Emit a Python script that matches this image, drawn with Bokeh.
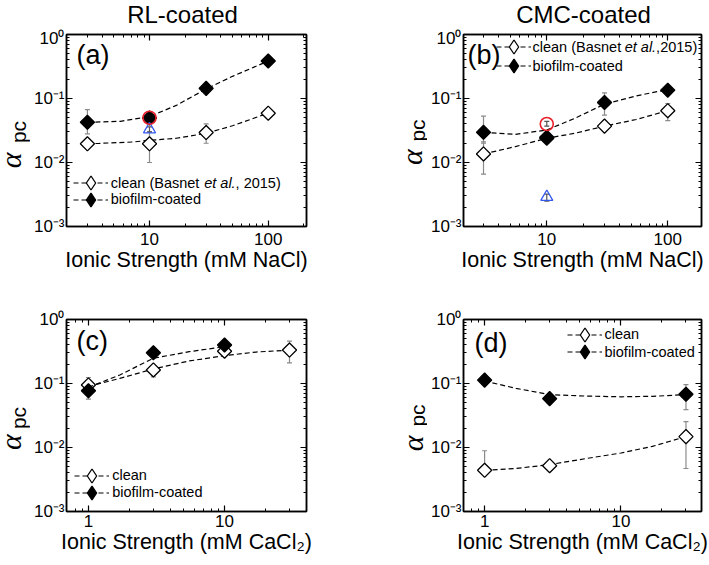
import numpy as np
from bokeh.plotting import figure
from bokeh.models import (ColumnDataSource, Whisker, TeeHead, LogAxis, FixedTicker,
                          Label, Legend, LegendItem, Range1d)
from bokeh.layouts import column, row
from bokeh.embed import file_html
from bokeh.resources import INLINE

FONT = "Liberation Sans"

# ---------------- data ----------------
Y_TICKS = [0.001, 0.01, 0.1, 1.0]
Y_TICK_LABELS = ["10\u207b\u00b3", "10\u207b\u00b2", "10\u207b\u00b9", "10\u2070"]
Y_MINOR = [m * d for d in [0.001, 0.01, 0.1] for m in range(2, 10)]

NACL_TICKS = [10, 100]
NACL_TICK_LABELS = ["10", "100"]
NACL_MINOR = [2, 3, 4, 5, 6, 7, 8, 9, 20, 30, 40, 50, 60, 70, 80, 90, 200]
CACL_TICKS = [1, 10]
CACL_TICK_LABELS = ["1", "10"]
CACL_MINOR = [0.8, 0.9, 2, 3, 4, 5, 6, 7, 8, 9, 20, 30]

# (a) RL-coated, NaCl
a_x = [3, 10, 30, 100]
a_clean = [0.0196, 0.0196, 0.0294, 0.059]
a_clean_lo = [0.017, 0.010, 0.020, 0.056]
a_clean_hi = [0.023, 0.030, 0.040, 0.063]
a_bio = [0.0425, 0.0497, 0.144, 0.385]
a_bio_lo = [0.028, 0.045, 0.130, 0.360]
a_bio_hi = [0.067, 0.055, 0.160, 0.410]
a_fit_clean_x = [3, 3.8, 7.2, 10, 16.8, 30, 50, 100]
a_fit_clean_y = [0.0196, 0.0199, 0.0209, 0.0222, 0.0239, 0.0286, 0.0375, 0.059]
a_fit_bio_x = [3, 5.7, 10, 16.8, 30, 50, 100]
a_fit_bio_y = [0.0425, 0.044, 0.0522, 0.078, 0.141, 0.222, 0.385]
a_red_x, a_red_y, a_red_lo, a_red_hi = [10], [0.050], [0.046], [0.054]
a_blue_x, a_blue_y, a_blue_lo, a_blue_hi = [10], [0.033], [0.030], [0.036]

# (b) CMC-coated, NaCl
b_x = [3, 10, 30, 100]
b_clean = [0.0136, 0.024, 0.037, 0.0645]
b_clean_lo = [0.0066, 0.021, 0.034, 0.045]
b_clean_hi = [0.021, 0.027, 0.040, 0.0836]
b_bio = [0.0296, 0.0248, 0.0867, 0.135]
b_bio_lo = [0.020, 0.0205, 0.055, 0.125]
b_bio_hi = [0.053, 0.029, 0.122, 0.145]
b_fit_x = [3, 5.5, 10, 17, 30, 55, 100]
b_fit_clean_y = [0.0136, 0.0177, 0.0239, 0.0286, 0.037, 0.047, 0.0645]
b_fit_bio_y = [0.0296, 0.0275, 0.0322, 0.0489, 0.0816, 0.11, 0.138]
b_red_x, b_red_y, b_red_lo, b_red_hi = [10], [0.040], [0.037], [0.044]
b_blue_x, b_blue_y, b_blue_lo, b_blue_hi = [10], [0.0029], [0.0025], [0.0032]

# (c) RL-coated, CaCl2
c_clean_x = [1, 3, 10, 30]
c_clean = [0.095, 0.163, 0.32, 0.333]
c_clean_lo = [0.080, 0.127, 0.272, 0.21]
c_clean_hi = [0.124, 0.19, 0.36, 0.46]
c_bio_x = [1, 3, 10]
c_bio = [0.077, 0.303, 0.40]
c_bio_lo = [0.057, 0.28, 0.36]
c_bio_hi = [0.095, 0.33, 0.44]
c_fit_clean_x = [1, 1.7, 3, 5.5, 10, 17, 30]
c_fit_clean_y = [0.09, 0.12, 0.169, 0.225, 0.272, 0.31, 0.333]
c_fit_bio_x = [1, 1.7, 3, 5.5, 10]
c_fit_bio_y = [0.087, 0.136, 0.248, 0.314, 0.376]

# (d) CMC-coated, CaCl2
d_x = [1, 3, 30]
d_clean = [0.0044, 0.0052, 0.0148]
d_clean_lo = [0.0040, 0.0048, 0.0047]
d_clean_hi = [0.0089, 0.0057, 0.0253]
d_bio = [0.113, 0.058, 0.068]
d_bio_lo = [0.105, 0.054, 0.039]
d_bio_hi = [0.120, 0.062, 0.096]
d_fit_x = [1, 1.7, 3, 5.5, 10, 17, 30]
d_fit_clean_y = [0.0044, 0.0047, 0.0054, 0.0067, 0.0082, 0.0104, 0.0148]
d_fit_bio_y = [0.109, 0.084, 0.067, 0.0636, 0.062, 0.063, 0.067]

NACL_LABEL = "Ionic Strength (mM NaCl)"
CACL_LABEL = "Ionic Strength (mM CaCl\u2082)"

# ---------------- helpers ----------------
FH = 192


def style_axis(ax, label_size=None, standoff=3):
    ax.axis_line_color = "black"
    ax.axis_line_width = 1.5
    ax.major_tick_in = 6
    ax.major_tick_out = 0
    ax.minor_tick_in = 3
    ax.minor_tick_out = 0
    ax.major_tick_line_color = "black"
    ax.minor_tick_line_color = "black"
    ax.major_tick_line_width = 1.2
    ax.minor_tick_line_width = 1
    if label_size is None:
        ax.major_label_text_font_size = "1px"
        ax.major_label_text_alpha = 0
        ax.major_label_standoff = 0
    else:
        ax.major_label_text_font = FONT
        ax.major_label_text_font_size = label_size
        ax.major_label_text_color = "black"
        ax.major_label_standoff = standoff


def make_fig(xr, xt, xt_labels, xminor, fw, bt, bb, br, xlabel, xstand):
    p = figure(x_axis_type="log", y_axis_type="log",
               x_range=Range1d(*xr), y_range=Range1d(Y_TICKS[0], Y_TICKS[-1]),
               frame_width=fw, frame_height=FH,
               min_border_left=35, min_border_right=br,
               min_border_top=bt, min_border_bottom=bb,
               output_backend="svg", toolbar_location=None)
    p.xgrid.visible = False
    p.ygrid.visible = False
    p.outline_line_color = "black"
    p.outline_line_width = 1.5
    p.background_fill_color = "white"
    p.border_fill_color = "white"
    xticker = FixedTicker(ticks=xt, minor_ticks=xminor)
    yticker = FixedTicker(ticks=Y_TICKS, minor_ticks=Y_MINOR)
    bx = p.xaxis[0]
    ly = p.yaxis[0]
    bx.ticker = xticker
    bx.major_label_overrides = dict(zip(xt, xt_labels))
    ly.ticker = yticker
    ly.major_label_overrides = dict(zip(Y_TICKS, Y_TICK_LABELS))
    top = LogAxis(ticker=xticker)
    right = LogAxis(ticker=yticker)
    p.add_layout(top, "above")
    p.add_layout(right, "right")
    style_axis(bx, "17px", xstand)
    style_axis(ly, "17px", 2)
    style_axis(top)
    style_axis(right)
    bx.axis_label = xlabel
    bx.axis_label_text_font = FONT
    bx.axis_label_text_font_size = "21.5px"
    bx.axis_label_text_font_style = "normal"
    bx.axis_label_text_color = "black"
    bx.axis_label_standoff = 0
    return p


def strip(w, h):
    s = figure(width=w, height=h, x_range=Range1d(0, 1), y_range=Range1d(0, 1),
               min_border=0, x_axis_location=None, y_axis_location=None,
               output_backend="svg", toolbar_location=None)
    s.xgrid.visible = False
    s.ygrid.visible = False
    s.outline_line_color = None
    s.background_fill_color = "white"
    s.border_fill_color = "white"
    return s


def txt(p, sx, sy, text, size, align="left", style="normal", font=FONT, angle=0.0):
    # (sx, sy) is the vertical middle of the text box
    p.add_layout(Label(x=sx, y=sy, x_units="screen", y_units="screen", text=text,
                       text_font=font, text_font_size=f"{size}px", text_align=align,
                       text_baseline="middle", text_font_style=style, angle=angle,
                       text_color="black"))


def errbars(p, x, lo, hi, color="#8a8a8a"):
    src = ColumnDataSource(dict(x=x, lo=lo, hi=hi))
    w = Whisker(source=src, base="x", lower="lo", upper="hi", dimension="height",
                line_color=color, line_width=1.2,
                upper_head=TeeHead(size=5, line_color=color, line_width=1.2),
                lower_head=TeeHead(size=5, line_color=color, line_width=1.2))
    p.add_layout(w)


def series(p, fx, fy, x, y, lo, hi, filled):
    fill = "black" if filled else "white"
    ln = p.line(fx, fy, line_color="black", line_width=1.2, line_dash="5 3")
    errbars(p, x, lo, hi)
    # diamond renderer (sits under the square-diamonds; used for the legend symbol)
    leg = p.scatter(x, y, marker="diamond", size=12, fill_color=fill,
                    line_color="black", line_width=1.3)
    p.scatter(x, y, marker="square", angle=np.pi / 4, size=10, fill_color=fill,
              line_color="black", line_width=1.3)
    return [ln, leg]


def legend1(p, label, rends, vx, vy, standoff):
    lg = Legend(items=[LegendItem(label=label, renderers=rends)],
                location=(vx, vy), padding=0, margin=0, spacing=0,
                glyph_width=35, glyph_height=35, label_height=17,
                label_standoff=standoff, border_line_color=None,
                background_fill_alpha=0, label_text_font=FONT,
                label_text_font_size="14.5px", label_text_color="black")
    p.add_layout(lg)


def extras(p, rx, ry, rlo, rhi, bx_, by_, blo, bhi):
    errbars(p, rx, rlo, rhi, "#555555")
    errbars(p, bx_, blo, bhi, "#555555")
    p.scatter(bx_, by_, marker="triangle", size=12, fill_color=None,
              line_color="#3358f0", line_width=1.3)
    p.scatter(rx, ry, marker="circle", size=13, fill_color=None,
              line_color="#e8202a", line_width=1.6)


def ylabel(s, ax_, ay_, px_, py_):
    # screen positions are relative to the strip frame, which lines up with the
    # neighbouring plot frame
    txt(s, ax_, ay_, "\u03b1", 30, align="center", style="italic",
        font="Liberation Serif", angle=np.pi / 2)
    txt(s, px_, py_, "pc", 21, align="center", angle=np.pi / 2)


# ---------------- (a) ----------------
pa = make_fig((2.0, 210.0), NACL_TICKS, NACL_TICK_LABELS, NACL_MINOR, 240, 6, 62, 89,
              NACL_LABEL, 6)
ac = series(pa, a_fit_clean_x, a_fit_clean_y, a_x, a_clean, a_clean_lo, a_clean_hi, False)
ab = series(pa, a_fit_bio_x, a_fit_bio_y, a_x, a_bio, a_bio_lo, a_bio_hi, True)
extras(pa, a_red_x, a_red_y, a_red_lo, a_red_hi, a_blue_x, a_blue_y, a_blue_lo, a_blue_hi)
legend1(pa, "clean (Basnet", ac, 6.7, 25.8, 3)
legend1(pa, "biofilm-coated", ab, 6.7, 9.2, 3)
txt(pa, 137.7, 43.3, "et al.", 14.5, style="italic")
txt(pa, 169.1, 43.3, ", 2015)", 14.5)
txt(pa, 10, 171.5, "(a)", 27)

# ---------------- (b) ----------------
pb = make_fig((2.05, 190.0), NACL_TICKS, NACL_TICK_LABELS, NACL_MINOR, 238, 6, 62, 8,
              NACL_LABEL, 6)
bc = series(pb, b_fit_x, b_fit_clean_y, b_x, b_clean, b_clean_lo, b_clean_hi, False)
bb = series(pb, b_fit_x, b_fit_bio_y, b_x, b_bio, b_bio_lo, b_bio_hi, True)
extras(pb, b_red_x, b_red_y, b_red_lo, b_red_hi, b_blue_x, b_blue_y, b_blue_lo, b_blue_hi)
legend1(pb, "clean (Basnet", bc, 32.5, 161.8, 2)
legend1(pb, "biofilm-coated", bb, 32.5, 142.8, 2)
txt(pb, 161.2, 179.3, "et al.", 14.5, style="italic")
txt(pb, 192.6, 179.3, ",2015)", 14.5)
txt(pb, 4, 171.5, "(b)", 27)

# ---------------- (c) ----------------
pc = make_fig((0.69, 40.0), CACL_TICKS, CACL_TICK_LABELS, CACL_MINOR, 240, 31, 52, 89,
              CACL_LABEL, 3)
cc = series(pc, c_fit_clean_x, c_fit_clean_y, c_clean_x, c_clean, c_clean_lo, c_clean_hi, False)
cb = series(pc, c_fit_bio_x, c_fit_bio_y, c_bio_x, c_bio, c_bio_lo, c_bio_hi, True)
legend1(pc, "clean", cc, 8.2, 18.5, 3)
legend1(pc, "biofilm-coated", cb, 8.2, 1.5, 3)
txt(pc, 10, 170.5, "(c)", 27)

# ---------------- (d) ----------------
pd_ = make_fig((0.70, 39.0), CACL_TICKS, CACL_TICK_LABELS, CACL_MINOR, 238, 31, 52, 8,
               CACL_LABEL, 3)
dc = series(pd_, d_fit_x, d_fit_clean_y, d_x, d_clean, d_clean_lo, d_clean_hi, False)
db = series(pd_, d_fit_x, d_fit_bio_y, d_x, d_bio, d_bio_lo, d_bio_hi, True)
legend1(pd_, "clean", dc, 103.5, 159.2, 3)
legend1(pd_, "biofilm-coated", db, 103.5, 141.8, 3)
txt(pd_, 11, 169, "(d)", 27)

# ---------------- titles and y-axis label strips ----------------
ta = strip(394, 28)
txt(ta, 182, 14.3, "RL-coated", 24, align="center")
tb = strip(313, 28)
txt(tb, 189, 14.3, "CMC-coated", 24, align="center")

ya = strip(30, 260)
ylabel(ya, 9.5, 66, 18, 94.5)
yb = strip(32, 260)
ylabel(yb, 15.5, 69.3, 21.5, 96)
yc = strip(30, 275)
ylabel(yc, 9.5, 69.3, 18, 93.5)
yd = strip(32, 275)
ylabel(yd, 16.5, 68, 22, 96)

layout = column(row(ta, tb), row(ya, pa, yb, pb), row(yc, pc, yd, pd_))
open("out.html", "w").write(file_html(layout, INLINE))
